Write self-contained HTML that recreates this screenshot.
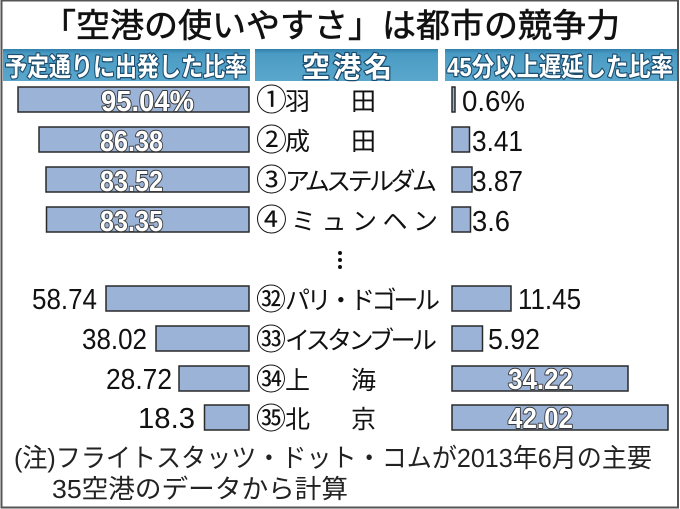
<!DOCTYPE html>
<html>
<head>
<meta charset="utf-8">
<style>
html,body{margin:0;padding:0;background:#fff;}
svg{display:block;}
.t{font-family:"Liberation Sans","Noto Sans CJK JP",sans-serif;}
</style>
</head>
<body>
<svg width="680" height="509" viewBox="0 0 680 509" xmlns="http://www.w3.org/2000/svg">
<defs>
<linearGradient id="hg" x1="0" y1="0" x2="0" y2="1">
<stop offset="0" stop-color="#2f7fab"/>
<stop offset="0.15" stop-color="#4a9bc4"/>
<stop offset="1" stop-color="#5aa7cc"/>
</linearGradient>
</defs>
<rect x="0" y="0" width="680" height="509" fill="#fff"/>
<rect x="1.5" y="0.5" width="676.5" height="507" fill="none" stroke="#555" stroke-width="2"/>

<!-- Title -->
<text class="t" x="42" y="37" font-size="33" fill="#111" stroke="#111" stroke-width="0.6" textLength="578" lengthAdjust="spacingAndGlyphs">「空港の使いやすさ」は都市の競争力</text>

<!-- Header bands -->
<rect x="3" y="49" width="247" height="32" fill="url(#hg)"/>
<rect x="255" y="49" width="183" height="32" fill="url(#hg)"/>
<rect x="445" y="49" width="232" height="32" fill="url(#hg)"/>
<g class="t" font-size="26" font-weight="bold" fill="#fff" stroke="#1c4d6e" stroke-width="2.5" paint-order="stroke" stroke-linejoin="round">
<text x="5" y="76" textLength="242" lengthAdjust="spacingAndGlyphs">予定通りに出発した比率</text>
<text x="302" y="77" textLength="90" font-size="28">空港名</text>
<text x="447" y="76" textLength="226" lengthAdjust="spacingAndGlyphs">45分以上遅延した比率</text>
</g>

<!-- Left bars -->
<g fill="#9bb3d6" stroke="#2a2a2a" stroke-width="1.5">
<rect x="18" y="87" width="231" height="25"/>
<rect x="39" y="127" width="210" height="25"/>
<rect x="46" y="167" width="203" height="25"/>
<rect x="46.5" y="207" width="202.5" height="25"/>
<rect x="106" y="286" width="143" height="25"/>
<rect x="156" y="326" width="93" height="25"/>
<rect x="179" y="366" width="70" height="25"/>
<rect x="204.5" y="405" width="44.5" height="25"/>
</g>

<!-- Right bars -->
<g fill="#9bb3d6" stroke="#2a2a2a" stroke-width="1.5">
<rect x="452" y="87" width="3" height="25"/>
<rect x="452" y="127" width="17.5" height="25"/>
<rect x="452" y="167" width="20" height="25"/>
<rect x="452" y="207" width="18.5" height="25"/>
<rect x="452" y="286" width="59" height="25"/>
<rect x="452" y="326" width="30.5" height="25"/>
<rect x="452" y="366" width="176" height="25"/>
<rect x="452" y="405" width="216" height="25"/>
</g>

<!-- Inside labels (white) -->
<g class="t" font-size="29" font-weight="bold" fill="#fff" stroke="#3a3a3a" stroke-width="2" paint-order="stroke" stroke-linejoin="round">
<text x="101" y="111" textLength="93" lengthAdjust="spacingAndGlyphs">95.04%</text>
<text x="100" y="151" textLength="63" lengthAdjust="spacingAndGlyphs">86.38</text>
<text x="100" y="191" textLength="63" lengthAdjust="spacingAndGlyphs">83.52</text>
<text x="100" y="231" textLength="63" lengthAdjust="spacingAndGlyphs">83.35</text>
<text x="508" y="389" textLength="65" lengthAdjust="spacingAndGlyphs">34.22</text>
<text x="508" y="428" textLength="65" lengthAdjust="spacingAndGlyphs">42.02</text>
</g>

<!-- Outside labels (black) -->
<g class="t" font-size="29" fill="#111">
<text x="32" y="309" textLength="65" lengthAdjust="spacingAndGlyphs">58.74</text>
<text x="82" y="349" textLength="65" lengthAdjust="spacingAndGlyphs">38.02</text>
<text x="106" y="389" textLength="66" lengthAdjust="spacingAndGlyphs">28.72</text>
<text x="138" y="428" textLength="57" lengthAdjust="spacingAndGlyphs">18.3</text>
<text x="462" y="111" textLength="63" lengthAdjust="spacingAndGlyphs">0.6%</text>
<text x="472" y="151" textLength="51" lengthAdjust="spacingAndGlyphs">3.41</text>
<text x="472" y="191" textLength="51" lengthAdjust="spacingAndGlyphs">3.87</text>
<text x="472" y="231" textLength="38" lengthAdjust="spacingAndGlyphs">3.6</text>
<text x="518" y="309" textLength="63" lengthAdjust="spacingAndGlyphs">11.45</text>
<text x="488" y="349" textLength="52" lengthAdjust="spacingAndGlyphs">5.92</text>
</g>

<!-- Airport names -->
<g class="t" font-size="25" fill="#111">
<text x="256" y="111" font-size="31">①</text><text x="285" y="110">羽</text><text x="351" y="110">田</text>
<text x="256" y="151" font-size="31">②</text><text x="285" y="150">成</text><text x="351" y="150">田</text>
<text x="256" y="191" font-size="31">③</text><text x="285" y="190" textLength="152">アムステルダム</text>
<text x="256" y="231" font-size="31">④</text><text x="291" y="230" textLength="147">ミュンヘン</text>
<text x="256" y="310" font-size="30">㉜</text><text x="285" y="309" textLength="155">パリ・ドゴール</text>
<text x="256" y="350" font-size="30">㉝</text><text x="285" y="349" textLength="152">イスタンブール</text>
<text x="256" y="390" font-size="30">㉞</text><text x="285" y="389">上</text><text x="351" y="389">海</text>
<text x="256" y="429" font-size="30">㉟</text><text x="285" y="428">北</text><text x="351" y="428">京</text>
</g>

<!-- ellipsis dots -->
<g fill="#111">
<circle cx="340" cy="253" r="2"/>
<circle cx="340" cy="260" r="2"/>
<circle cx="340" cy="267" r="2"/>
</g>

<!-- Footnote -->
<g class="t" font-size="26" fill="#222">
<text x="14" y="467" textLength="638" lengthAdjust="spacingAndGlyphs">(注)フライトスタッツ・ドット・コムが2013年6月の主要</text>
<text x="52" y="498" textLength="296" lengthAdjust="spacingAndGlyphs">35空港のデータから計算</text>
</g>
</svg>
</body>
</html>
